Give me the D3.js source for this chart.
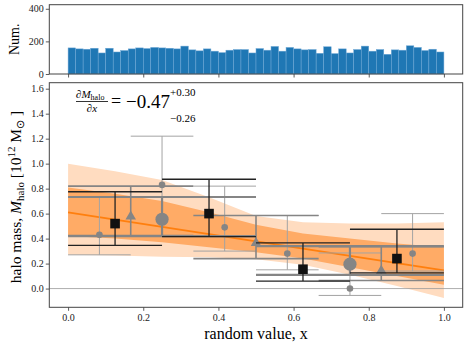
<!DOCTYPE html>
<html>
<head>
<meta charset="utf-8">
<script src="https://cdn.jsdelivr.net/npm/d3@7"></script>
<style>
    body { margin: 0; background: #fff; }
    svg { display: block; font-family: 'Liberation Serif', 'Times New Roman', serif; }
</style>
</head>
<body>
<div id="chart"></div>
<script>
// histogram of the random values, 50 bins over [0, 1]
const histCounts = [160, 154, 152, 158, 129, 158, 135, 144, 154, 160,
                    156, 163, 160, 158, 154, 171, 148, 142, 154, 140,
                    131, 146, 150, 150, 129, 156, 146, 169, 140, 163,
                    154, 148, 150, 127, 167, 125, 154, 129, 150, 171,
                    140, 150, 121, 148, 146, 173, 163, 144, 152, 135];
const histTicks = [0, 200, 400];
const xTicks = [0, 0.2, 0.4, 0.6, 0.8, 1.0];
const massTicks = [0, 0.2, 0.4, 0.6, 0.8, 1.0, 1.2, 1.4, 1.6];

// linear fit and its posterior bands
const fitX = [0, 1];
const fitY = [0.61, 0.145];
const bandX   = [0, 0.125, 0.25, 0.375, 0.5, 0.625, 0.75, 0.875, 1];
const outerHi = [1.00, 0.94, 0.87, 0.73, 0.58, 0.53, 0.52, 0.52, 0.53];
const innerHi = [0.81, 0.76, 0.70, 0.61, 0.51, 0.44, 0.40, 0.36, 0.33];
const innerLo = [0.42, 0.40, 0.37, 0.33, 0.29, 0.24, 0.17, 0.10, 0.03];
const outerLo = [0.27, 0.265, 0.255, 0.25, 0.235, 0.19, 0.11, 0.02, -0.075];

// binned means: 6 bins (small circles)
const sixCenters = [1/12, 3/12, 5/12, 7/12, 9/12, 11/12];
const sixMean = [0.43, 0.83, 0.49, 0.28, 0.00, 0.28];
const sixHi   = [0.73, 1.22, 0.82, 0.585, 0.285, 0.60];
const sixLo   = [0.27, 0.42, 0.30, 0.15, -0.055, 0.14];
// 3 bins (triangles)
const threeCenters = [1/6, 3/6, 5/6];
const threeMean = [0.585, 0.373, 0.15];
const threeHi   = [0.82, 0.585, 0.335];
const threeLo   = [0.425, 0.24, 0.065];
// 2 bins (big circles)
const twoCenters = [0.25, 0.75];
const twoMean = [0.555, 0.195];
const twoHi   = [0.733, 0.34];
const twoLo   = [0.42, 0.11];
// 4 bins (black squares)
const fourCenters = [0.125, 0.375, 0.625, 0.875];
const fourMean = [0.52, 0.60, 0.155, 0.24];
const fourHi   = [0.775, 0.875, 0.365, 0.475];
const fourLo   = [0.346, 0.415, 0.06, 0.125];

class HaloMassChart {
    constructor(containerId) {
        this.containerId = containerId;
        this.dimensions = { width: 469, height: 351 };
        this.left = 49.3;
        this.right = 462.7;
        this.top = { y0: 4.7, y1: 74 };
        this.main = { y0: 82.7, y1: 307.3 };
        this.colors = {
            hist: '#1f77b4',
            outer: '#ffdcc0',
            inner: '#ffab66',
            fit: '#ff7f0e',
            gray: '#858585',
            light: '#a3a3a3',
            black: '#111'
        };
    }

    createChart() {
        const { width, height } = this.dimensions;
        d3.select(this.containerId).selectAll('*').remove();

        const svg = d3.select(this.containerId)
            .append('svg')
            .attr('width', width)
            .attr('height', height);

        this.x = d3.scaleLinear().domain([-0.05, 1.05]).range([this.left, this.right]);
        this.drawHistogram(svg);
        this.drawMain(svg);
    }

    drawHistogram(svg) {
        const x = this.x;
        const y = d3.scaleLinear().domain([0, 425]).range([this.top.y1, this.top.y0]);
        const n = histCounts.length;

        svg.append('g')
            .selectAll('rect')
            .data(histCounts)
            .enter()
            .append('rect')
            .attr('x', (d, i) => x(i / n))
            .attr('width', x(1 / n) - x(0))
            .attr('y', d => y(d))
            .attr('height', d => y(0) - y(d))
            .attr('fill', this.colors.hist)
            .attr('stroke', '#6fa8d6')
            .attr('stroke-width', 0.5);

        const yAxis = d3.axisLeft(y).tickValues(histTicks).tickSize(3.5).tickPadding(2);
        const gy = svg.append('g').attr('transform', `translate(${this.left},0)`).call(yAxis);
        this.styleAxis(gy);

        const xAxis = d3.axisBottom(x).tickValues(xTicks).tickSize(3.5).tickFormat('');
        const gx = svg.append('g').attr('transform', `translate(0,${this.top.y1})`).call(xAxis);
        this.styleAxis(gx);

        this.frame(svg, this.top.y0, this.top.y1);

        svg.append('text')
            .attr('transform', `translate(19,${(this.top.y0 + this.top.y1) / 2}) rotate(-90)`)
            .attr('text-anchor', 'middle')
            .attr('font-size', 14)
            .text('Num.');
    }

    drawMain(svg) {
        const x = this.x;
        const y = d3.scaleLinear().domain([-0.15, 1.648]).range([this.main.y1, this.main.y0]);
        this.y = y;

        const clip = svg.append('defs').append('clipPath').attr('id', 'main-clip')
            .append('rect')
            .attr('x', this.left).attr('y', this.main.y0)
            .attr('width', this.right - this.left).attr('height', this.main.y1 - this.main.y0);

        const plot = svg.append('g').attr('clip-path', 'url(#main-clip)');

        const band = (hi, lo) => d3.area()
            .x((d, i) => x(bandX[i]))
            .y0((d, i) => y(lo[i]))
            .y1((d, i) => y(hi[i]));

        plot.append('path').datum(bandX).attr('d', band(outerHi, outerLo)).attr('fill', this.colors.outer);
        plot.append('path').datum(bandX).attr('d', band(innerHi, innerLo)).attr('fill', this.colors.inner);

        plot.append('line')
            .attr('x1', this.left).attr('x2', this.right)
            .attr('y1', y(0)).attr('y2', y(0))
            .attr('stroke', '#999').attr('stroke-width', 0.8);

        plot.append('path')
            .datum(fitX)
            .attr('d', d3.line().x(d => x(d)).y((d, i) => y(fitY[i])))
            .attr('stroke', this.colors.fit)
            .attr('stroke-width', 1.8)
            .attr('fill', 'none');

        this.drawBinned(plot, { centers: sixCenters, mean: sixMean, hi: sixHi, lo: sixLo, half: 1 / 12,
            stroke: this.colors.light, width: 1, marker: 'circle', size: 3.3, fill: this.colors.gray });
        this.drawBinned(plot, { centers: threeCenters, mean: threeMean, hi: threeHi, lo: threeLo, half: 1 / 6,
            stroke: this.colors.gray, width: 1.6, marker: 'triangle', size: 48, fill: this.colors.gray });
        this.drawBinned(plot, { centers: twoCenters, mean: twoMean, hi: twoHi, lo: twoLo, half: 0.25,
            stroke: this.colors.gray, width: 2.2, marker: 'circle', size: 6.6, fill: this.colors.gray });
        this.drawBinned(plot, { centers: fourCenters, mean: fourMean, hi: fourHi, lo: fourLo, half: 0.125,
            stroke: '#222', width: 1.3, marker: 'square', size: 9.6, fill: this.colors.black });

        const yAxis = d3.axisLeft(y).tickValues(massTicks).tickSize(3.5).tickPadding(2)
            .tickFormat(d3.format('.1f'));
        const gy = svg.append('g').attr('transform', `translate(${this.left},0)`).call(yAxis);
        this.styleAxis(gy);

        const xAxis = d3.axisBottom(x).tickValues(xTicks).tickSize(3.5).tickPadding(3)
            .tickFormat(d3.format('.1f'));
        const gx = svg.append('g').attr('transform', `translate(0,${this.main.y1})`).call(xAxis);
        this.styleAxis(gx);

        this.frame(svg, this.main.y0, this.main.y1);

        // axis labels
        svg.append('text')
            .attr('x', (this.left + this.right) / 2)
            .attr('y', 339)
            .attr('text-anchor', 'middle')
            .attr('font-size', 16)
            .text('random value, x');

        const yl = svg.append('text')
            .attr('transform', `translate(21,${(this.main.y0 + this.main.y1) / 2 + 2}) rotate(-90)`)
            .attr('text-anchor', 'middle')
            .attr('font-size', 15.5);
        yl.append('tspan').text('halo mass, ');
        yl.append('tspan').attr('font-style', 'italic').text('M');
        yl.append('tspan').attr('font-size', 11).attr('dy', 3).text('halo');
        yl.append('tspan').attr('dy', -3).text(' [10');
        yl.append('tspan').attr('font-size', 11).attr('dy', -6).text('12');
        yl.append('tspan').attr('dy', 6).text(' M');
        yl.append('tspan').attr('font-size', 11).attr('dy', 3).text('\u2299');
        yl.append('tspan').attr('dy', -3).text(' ]');

        this.drawAnnotation(svg);
    }

    drawBinned(g, s) {
        const { x, y } = this;
        s.centers.forEach((c, i) => {
            [s.lo[i], s.hi[i]].forEach(v => {
                g.append('line')
                    .attr('x1', x(c - s.half)).attr('x2', x(c + s.half))
                    .attr('y1', y(v)).attr('y2', y(v))
                    .attr('stroke', s.stroke).attr('stroke-width', s.width);
            });
            g.append('line')
                .attr('x1', x(c)).attr('x2', x(c))
                .attr('y1', y(s.lo[i])).attr('y2', y(s.hi[i]))
                .attr('stroke', s.stroke).attr('stroke-width', s.width);
        });

        const pts = g.append('g').selectAll('.pt').data(s.centers).enter();
        if (s.marker === 'circle') {
            pts.append('circle')
                .attr('cx', d => x(d))
                .attr('cy', (d, i) => y(s.mean[i]))
                .attr('r', s.size)
                .attr('fill', s.fill);
        } else if (s.marker === 'square') {
            pts.append('rect')
                .attr('x', d => x(d) - s.size / 2)
                .attr('y', (d, i) => y(s.mean[i]) - s.size / 2)
                .attr('width', s.size).attr('height', s.size)
                .attr('fill', s.fill);
        } else {
            pts.append('path')
                .attr('d', d3.symbol().type(d3.symbolTriangle).size(s.size))
                .attr('transform', (d, i) => `translate(${x(d)},${y(s.mean[i]) + 1})`)
                .attr('fill', s.fill);
        }
    }

    drawAnnotation(svg) {
        const g = svg.append('g');
        const num = g.append('text').attr('x', 76).attr('y', 98).attr('font-size', 11);
        num.append('tspan').attr('font-style', 'italic').text('\u2202M');
        num.append('tspan').attr('font-size', 8).attr('dy', 2).text('halo');

        g.append('line').attr('x1', 76).attr('x2', 108).attr('y1', 101.5).attr('y2', 101.5)
            .attr('stroke', '#000').attr('stroke-width', 0.8);

        g.append('text').attr('x', 92).attr('y', 112).attr('text-anchor', 'middle')
            .attr('font-size', 11).attr('font-style', 'italic').text('\u2202x');

        g.append('text').attr('x', 111).attr('y', 107).attr('font-size', 18).text('=');
        g.append('text').attr('x', 126).attr('y', 108).attr('font-size', 19).text('\u22120.47');
        g.append('text').attr('x', 170).attr('y', 96).attr('font-size', 11).text('+0.30');
        g.append('text').attr('x', 170).attr('y', 122).attr('font-size', 11).text('\u22120.26');
    }

    styleAxis(g) {
        g.select('.domain').remove();
        g.selectAll('.tick line').attr('stroke', '#333').attr('stroke-width', 0.8);
        g.selectAll('.tick text').attr('font-size', 10).attr('fill', '#222')
            .attr('font-family', "'Liberation Serif', serif");
    }

    frame(svg, y0, y1) {
        svg.append('rect')
            .attr('x', this.left).attr('y', y0)
            .attr('width', this.right - this.left).attr('height', y1 - y0)
            .attr('fill', 'none')
            .attr('stroke', '#444')
            .attr('stroke-width', 1);
    }
}

document.addEventListener('DOMContentLoaded', () => {
    const chart = new HaloMassChart('#chart');
    chart.createChart();
});
</script>
</body>
</html>
